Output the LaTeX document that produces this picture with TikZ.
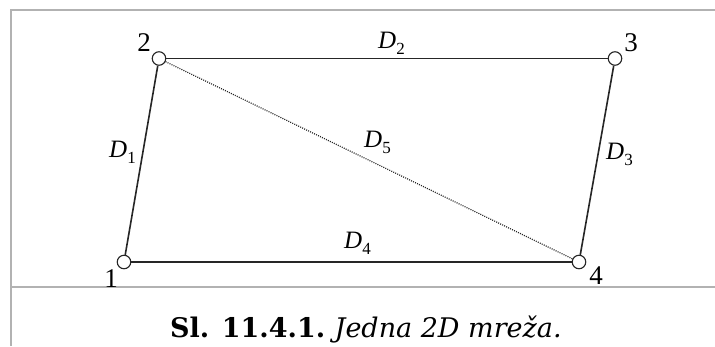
\documentclass[tikz,border=0pt]{standalone}
\usepackage{fontspec}
\setmainfont{Liberation Serif}
\newfontfamily\dejaser{DejaVu Serif}
\tikzset{
  station/.style={circle, draw=black!85, line width=1.1pt, fill=white, inner sep=0pt, minimum size=13.5pt},
  edge/.style={line width=1.6pt, black!85},
  diag/.style={line width=1.2pt, black!85, dash pattern=on 1pt off 1.2pt},
  num/.style={inner sep=0pt, font=\fontsize{27}{27}\selectfont},
  dlab/.style={inner sep=0pt, anchor=base west, font=\fontsize{25}{25}\selectfont},
  frame/.style={line width=2pt, black!30},
  captxt/.style={inner sep=0pt, anchor=base west, font=\dejaser\fontsize{27}{27}\selectfont}
}
\newcommand{\dsub}[1]{\textit{D}\raisebox{-6.5pt}{\fontsize{17}{17}\selectfont #1}}
\begin{document}
\begin{tikzpicture}[x=1pt,y=-1pt]
\useasboundingbox (0,0) rectangle (715,346);
\fill[white] (0,0) rectangle (715,346);
% frame
\coordinate (fa) at (10.5,346);
\coordinate (fb) at (10.5,9.5);
\coordinate (fc) at (715,9.5);
\coordinate (fd) at (10.5,287);
\coordinate (fe) at (715,287);
\draw[frame] (fa) -- (fb) -- (fc);
\draw[frame] (fd) -- (fe);
% stations
\node[station] (n1) at (124,262) {};
\node[station] (n2) at (159,58.5) {};
\node[station] (n3) at (615,58.5) {};
\node[station] (n4) at (579,262) {};
% connectors
\draw[edge] (n1) -- (n2);
\draw[edge] (n2) -- (n3);
\draw[edge] (n3) -- (n4);
\draw[edge] (n1) -- (n4);
\draw[diag] (n2) -- (n4);
% point numbers
\node[num] (l1) at (111,279) {1};
\node[num] (l2) at (144,43) {2};
\node[num] (l3) at (631,43) {3};
\node[num] (l4) at (596,276) {4};
% distance labels
\node[dlab] (d1) at (109,157) {\dsub{1}};
\node[dlab] (d2) at (378,48) {\dsub{2}};
\node[dlab] (d3) at (606,159) {\dsub{3}};
\node[dlab] (d4) at (344,248) {\dsub{4}};
\node[dlab] (d5) at (364,147) {\dsub{5}};
% caption
\node[captxt] (cap) at (170,337) {\textbf{Sl. 11.4.1.}\hspace{-2pt} \textit{Jedna 2D mreža.}};
\end{tikzpicture}
\end{document}
